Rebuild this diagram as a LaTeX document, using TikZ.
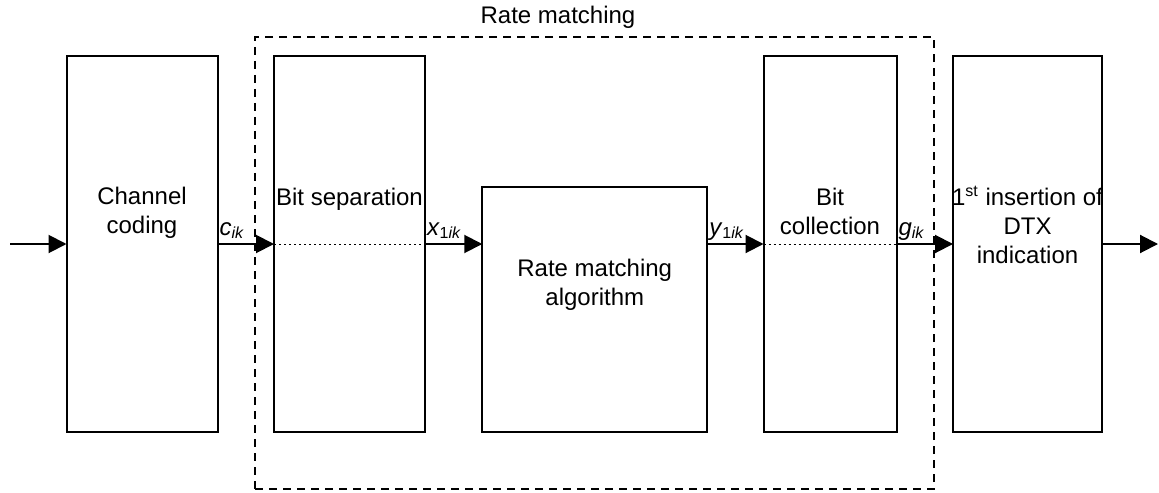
\documentclass[tikz,border=0pt]{standalone}
\usepackage{fontspec}
\setmainfont{Liberation Sans}
\usetikzlibrary{arrows.meta}

\begin{document}
\begin{tikzpicture}[x=0.5pt, y=-0.5pt,
	font=\fontsize{12pt}{14.5pt}\selectfont,
	box/.style={draw, line width=1pt, inner sep=0pt, outer sep=0pt, minimum height=188pt},
	flow/.style={line width=1pt, -{Triangle[length=9pt, width=9pt]}},
	sig/.style={anchor=base west, inner sep=0.5pt, yshift=4.5pt},
	txt/.style={anchor=base, align=center, inner sep=0pt}]
	\useasboundingbox (0,0) rectangle (1159,492);
	
	\node[draw, dash pattern=on 4pt off 3pt, line width=1pt, inner sep=0pt, outer sep=0pt,
		minimum width=339.5pt, minimum height=226pt] (rmgroup) at (594.5,263) {};
	\node[txt] (rmlabel) at (558,24) {Rate matching};
	
	\node[box, minimum width=75.5pt] (cc) at (142,244) {};
	\node[box, minimum width=75.5pt] (bs) at (349.5,244) {};
	\node[box, minimum width=112.5pt, minimum height=122.5pt] (rm) at (594.75,309.5) {};
	\node[box, minimum width=66.5pt] (bc) at (830,244) {};
	\node[box, minimum width=74.5pt] (ins) at (1027.5,244) {};
	
	\node[txt] (cctext) at (142,233) {Channel\\coding};
	\node[txt] (bstext) at (349.5,205) {Bit separation};
	\node[txt] (rmtext) at (594.75,305) {Rate matching\\algorithm};
	\node[txt] (bctext) at (830,234) {Bit\\collection};
	\node[txt] (instext) at (1027.5,263) {1\textsuperscript{st} insertion of\\DTX\\indication};
	
	\coordinate (in) at (10,244);
	\coordinate (out) at (1158,244);
	
	\draw[line width=0.5pt, dash pattern=on 1pt off 1.5pt]
		(bs.west) -- (bs.east)
		(bc.west) -- (bc.east)
	;
	
	\draw
		(in) edge[flow] (cc.west)
		(cc.east) edge[flow] node[sig, at start] {\textit{c}\textsubscript{\textit{ik}}} (bs.west)
		(bs.east) edge[flow] node[sig, at start] {\textit{x}\textsubscript{1\textit{ik}}} (bs.east -| rm.west)
		(bc.west -| rm.east) edge[flow] node[sig, at start] {\textit{y}\textsubscript{1\textit{ik}}} (bc.west)
		(bc.east) edge[flow] node[sig, at start] {\textit{g}\textsubscript{\textit{ik}}} (ins.west)
		(ins.east) edge[flow] (out)
	;
\end{tikzpicture}
\end{document}
